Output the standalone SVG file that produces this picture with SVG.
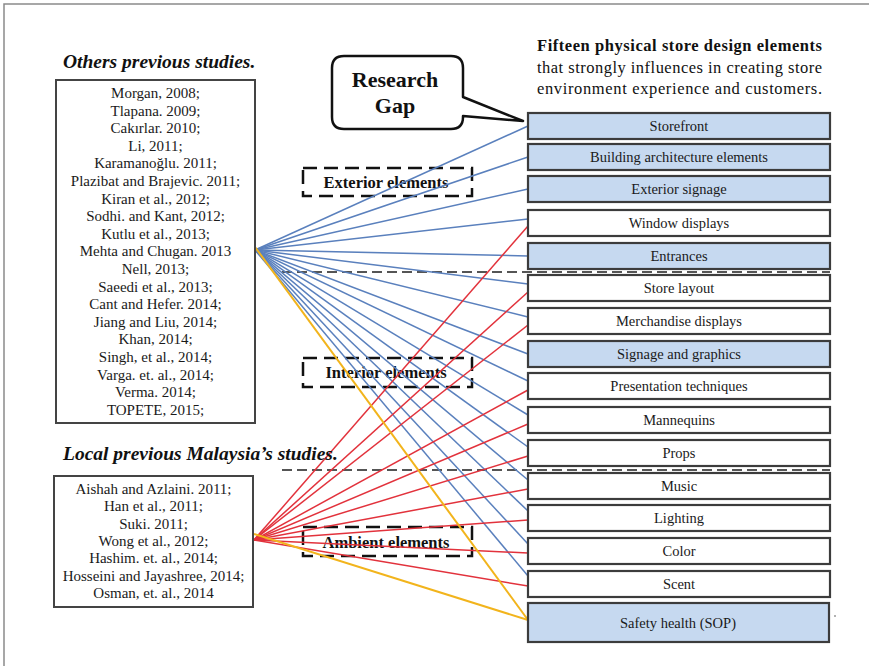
<svg xmlns="http://www.w3.org/2000/svg" width="869" height="666" viewBox="0 0 869 666">
<defs>
<style>
.frame{stroke:#8a8a8a;stroke-width:1.5;fill:none}
.lbox{fill:#fff;stroke:#444;stroke-width:2}
.rb{fill:#fff;stroke:#3c3c3c;stroke-width:2.2}
.rb.hl{fill:#c6d9f0}
.lst{font-family:"Liberation Serif","Times New Roman",serif;font-size:15px;fill:#1a1a1a;text-anchor:middle}
.rt{font-family:"Liberation Serif","Times New Roman",serif;font-size:14.5px;fill:#1a1a1a;text-anchor:middle}
.ttl{font-family:"Liberation Serif","Times New Roman",serif;font-size:19.5px;font-weight:bold;font-style:italic;fill:#111}
.hdr{font-family:"Liberation Serif","Times New Roman",serif;font-size:16.5px;fill:#111}
.grp{fill:none;stroke:#111;stroke-width:2.5;stroke-dasharray:14 7}
.grpt{font-family:"Liberation Serif","Times New Roman",serif;font-size:16.5px;font-weight:bold;fill:#111;text-anchor:middle}
.sep{stroke:#555;stroke-width:2;stroke-dasharray:10 5;fill:none}
.b{stroke:#5a80bd;stroke-width:1.5;fill:none}
.r{stroke:#e2323c;stroke-width:1.5;fill:none}
.y{stroke:#f2b41c;stroke-width:2;fill:none}
</style>
</defs>
<rect width="869" height="666" fill="#fff"/>
<path class="frame" d="M4,666 V4 H869"/>

<!-- group labels (dashed) -->
<g id="exterior-label"><rect class="grp" x="303" y="168" width="169" height="28"/><text class="grpt" x="386" y="188">Exterior elements</text></g>
<g id="interior-label"><rect class="grp" x="303" y="358" width="169" height="29"/><text class="grpt" x="386" y="378">Interior elements</text></g>
<g id="ambient-label"><rect class="grp" x="303" y="527" width="169" height="29"/><text class="grpt" x="386" y="548">Ambient elements</text></g>

<!-- separators -->
<g id="separators">
<line class="sep" x1="282" y1="272" x2="830" y2="272"/>
<line class="sep" x1="282" y1="470" x2="830" y2="470"/>
</g>

<g id="connectors">
<g id="blue">
<line class="b" x1="255" y1="250" x2="528" y2="126"/>
<line class="b" x1="255" y1="250" x2="528" y2="157"/>
<line class="b" x1="255" y1="250" x2="528" y2="189"/>
<line class="b" x1="255" y1="250" x2="528" y2="219"/>
<line class="b" x1="255" y1="250" x2="528" y2="256"/>
<line class="b" x1="255" y1="250" x2="528" y2="284"/>
<line class="b" x1="255" y1="250" x2="528" y2="317"/>
<line class="b" x1="255" y1="250" x2="528" y2="354"/>
<line class="b" x1="255" y1="250" x2="528" y2="381"/>
<line class="b" x1="255" y1="250" x2="528" y2="415"/>
<line class="b" x1="255" y1="250" x2="528" y2="447"/>
<line class="b" x1="255" y1="250" x2="528" y2="480"/>
<line class="b" x1="255" y1="250" x2="528" y2="511"/>
<line class="b" x1="255" y1="250" x2="528" y2="544"/>
<line class="b" x1="255" y1="250" x2="528" y2="576"/>
</g>
<g id="red">
<line class="r" x1="254" y1="540" x2="528" y2="226"/>
<line class="r" x1="254" y1="540" x2="528" y2="292"/>
<line class="r" x1="254" y1="540" x2="528" y2="325"/>
<line class="r" x1="254" y1="540" x2="528" y2="390"/>
<line class="r" x1="254" y1="540" x2="528" y2="424"/>
<line class="r" x1="254" y1="540" x2="528" y2="456"/>
<line class="r" x1="254" y1="540" x2="528" y2="489"/>
<line class="r" x1="254" y1="540" x2="528" y2="520"/>
<line class="r" x1="254" y1="540" x2="528" y2="553"/>
<line class="r" x1="254" y1="540" x2="528" y2="586"/>
</g>
<g id="yellow">
<line class="y" x1="255" y1="247" x2="528" y2="620"/>
<line class="y" x1="254" y1="534" x2="528" y2="620"/>
</g>
</g>

<!-- left: others -->
<g id="others">
<text class="ttl" x="63" y="68">Others previous studies.</text>
<rect class="lbox" x="56" y="80" width="199" height="343"/>
<text class="lst" x="155.5" y="98">Morgan, 2008;</text>
<text class="lst" x="155.5" y="115.6">Tlapana. 2009;</text>
<text class="lst" x="155.5" y="133.2">Cakırlar. 2010;</text>
<text class="lst" x="155.5" y="150.8">Li, 2011;</text>
<text class="lst" x="155.5" y="168.4">Karamanoğlu. 2011;</text>
<text class="lst" x="155.5" y="186">Plazibat and Brajevic. 2011;</text>
<text class="lst" x="155.5" y="203.6">Kiran et al., 2012;</text>
<text class="lst" x="155.5" y="221.2">Sodhi. and Kant, 2012;</text>
<text class="lst" x="155.5" y="238.8">Kutlu et al., 2013;</text>
<text class="lst" x="155.5" y="256.4">Mehta and Chugan. 2013</text>
<text class="lst" x="155.5" y="274">Nell, 2013;</text>
<text class="lst" x="155.5" y="291.6">Saeedi  et al., 2013;</text>
<text class="lst" x="155.5" y="309.2">Cant and Hefer. 2014;</text>
<text class="lst" x="155.5" y="326.8">Jiang and Liu, 2014;</text>
<text class="lst" x="155.5" y="344.4">Khan, 2014;</text>
<text class="lst" x="155.5" y="362">Singh, et al., 2014;</text>
<text class="lst" x="155.5" y="379.6">Varga. et. al., 2014;</text>
<text class="lst" x="155.5" y="397.2">Verma. 2014;</text>
<text class="lst" x="155.5" y="414.8">TOPETE, 2015;</text>
</g>

<!-- left: local -->
<g id="local">
<text class="ttl" x="63" y="460">Local previous Malaysia’s studies.</text>
<rect class="lbox" x="54" y="476" width="199" height="131"/>
<text class="lst" x="153.5" y="494">Aishah and Azlaini. 2011;</text>
<text class="lst" x="153.5" y="511.3">Han et al., 2011;</text>
<text class="lst" x="153.5" y="528.6">Suki.  2011;</text>
<text class="lst" x="153.5" y="545.9">Wong et al., 2012;</text>
<text class="lst" x="153.5" y="563.2">Hashim. et. al., 2014;</text>
<text class="lst" x="153.5" y="580.5">Hosseini and Jayashree, 2014;</text>
<text class="lst" x="153.5" y="597.8">Osman, et. al., 2014</text>
</g>

<!-- research gap callout -->
<g id="research-gap">
<path d="M344,56 H451 Q463,56 463,68 V97 L523,121 L463,116 V117 Q463,129 451,129 H344 Q332,129 332,117 V68 Q332,56 344,56 Z" fill="#fff" stroke="#111" stroke-width="2.5" stroke-linejoin="round"/>
<text x="395" y="87" font-family="Liberation Serif,Times New Roman,serif" font-size="22" font-weight="bold" fill="#111" text-anchor="middle">Research</text>
<text x="395" y="113" font-family="Liberation Serif,Times New Roman,serif" font-size="22" font-weight="bold" fill="#111" text-anchor="middle">Gap</text>
</g>

<!-- header -->
<g id="header">
<text class="hdr" x="537" y="51" font-size="17" font-weight="bold" textLength="285" lengthAdjust="spacing">Fifteen physical store design elements</text>
<text class="hdr" x="537" y="73" textLength="285" lengthAdjust="spacing">that strongly influences in creating store</text>
<text class="hdr" x="537" y="94" textLength="285" lengthAdjust="spacing">environment experience and customers.</text>
</g>

<!-- right boxes -->
<g id="storefront"><rect class="rb hl" x="528" y="113" width="302" height="26"/><text class="rt" x="679" y="131">Storefront</text></g>
<g id="building"><rect class="rb hl" x="528" y="144" width="302" height="26"/><text class="rt" x="679" y="162">Building architecture elements</text></g>
<g id="exterior-signage"><rect class="rb hl" x="528" y="176" width="302" height="26"/><text class="rt" x="679" y="194">Exterior signage</text></g>
<g id="window-displays"><rect class="rb" x="528" y="210" width="302" height="26"/><text class="rt" x="679" y="228">Window displays</text></g>
<g id="entrances"><rect class="rb hl" x="528" y="243" width="302" height="26"/><text class="rt" x="679" y="261">Entrances</text></g>
<g id="store-layout"><rect class="rb" x="528" y="275" width="302" height="26"/><text class="rt" x="679" y="293">Store layout</text></g>
<g id="merchandise"><rect class="rb" x="528" y="308" width="302" height="26"/><text class="rt" x="679" y="326">Merchandise displays</text></g>
<g id="signage"><rect class="rb hl" x="528" y="341" width="302" height="26"/><text class="rt" x="679" y="359">Signage and graphics</text></g>
<g id="presentation"><rect class="rb" x="528" y="373" width="302" height="26"/><text class="rt" x="679" y="391">Presentation techniques</text></g>
<g id="mannequins"><rect class="rb" x="528" y="407" width="302" height="26"/><text class="rt" x="679" y="425">Mannequins</text></g>
<g id="props"><rect class="rb" x="528" y="440" width="302" height="26"/><text class="rt" x="679" y="458">Props</text></g>
<g id="music"><rect class="rb" x="528" y="473" width="302" height="26"/><text class="rt" x="679" y="491">Music</text></g>
<g id="lighting"><rect class="rb" x="528" y="505" width="302" height="26"/><text class="rt" x="679" y="523">Lighting</text></g>
<g id="color"><rect class="rb" x="528" y="538" width="302" height="26"/><text class="rt" x="679" y="556">Color</text></g>
<g id="scent"><rect class="rb" x="528" y="571" width="302" height="26"/><text class="rt" x="679" y="589">Scent</text></g>
<g id="safety"><rect class="rb hl" x="528" y="603" width="301" height="39"/><text class="rt" x="678" y="628" font-size="16">Safety health (SOP)</text></g>
<circle cx="835" cy="616" r="1" fill="#999"/>
</svg>
